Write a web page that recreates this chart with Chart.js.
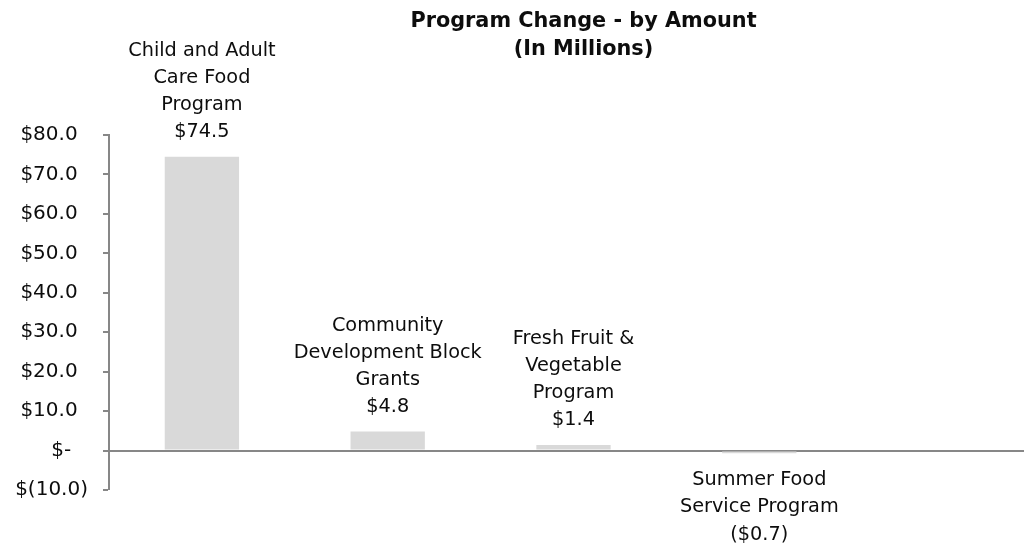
<!DOCTYPE html>
<html>
<head>
<meta charset="utf-8">
<script src="https://cdn.jsdelivr.net/npm/chart.js@4"></script>
<style>
  html, body { margin: 0; padding: 0; background: #fff; overflow: hidden; }
  #wrap { position: relative; width: 1038px; height: 549px; }
</style>
</head>
<body>
<div id="wrap"><canvas id="c"></canvas></div>
<script>
const categories = [
  ["Child and Adult", "Care Food", "Program"],
  ["Community", "Development Block", "Grants"],
  ["Fresh Fruit &", "Vegetable", "Program"],
  ["Summer Food", "Service Program"],
  [""]
];
const values = [74.5, 4.8, 1.4, -0.7, null];
const valueLabels = ["$74.5", "$4.8", "$1.4", "($0.7)", ""];
const tickValues = [-10, 0, 10, 20, 30, 40, 50, 60, 70, 80];
const tickLabels = ["$(10.0)", "$-", "$10.0", "$20.0", "$30.0", "$40.0", "$50.0", "$60.0", "$70.0", "$80.0"];
const titleLines = ["Program Change - by Amount", "(In Millions)"];

const FONT = "'DejaVu Sans', sans-serif";
const TEXT = '#0d0d0d';
const AXIS = '#878787';

const labelPlugin = {
  id: 'barLabels',
  afterDatasetsDraw(chart) {
    const ctx = chart.ctx;
    const meta = chart.getDatasetMeta(0);
    ctx.save();
    ctx.fillStyle = TEXT;
    ctx.font = "19.3px " + FONT;
    ctx.textAlign = 'center';
    ctx.textBaseline = 'middle';
    const lh = 27;
    meta.data.forEach((el, i) => {
      const v = values[i];
      if (v === null || v === undefined) return;
      const lines = categories[i].concat([valueLabels[i]]);
      if (v >= 0) {
        let y = el.y - 25;
        for (let k = lines.length - 1; k >= 0; k--) {
          ctx.fillText(lines[k], el.x, y);
          y -= lh;
        }
      } else {
        let y = el.y + 26.5;
        for (let k = 0; k < lines.length; k++) {
          ctx.fillText(lines[k], el.x, y);
          y += lh + 0.5;
        }
      }
    });
    // title
    const ca = chart.chartArea;
    ctx.font = "bold 20.8px " + FONT;
    const cx = (ca.left + ca.right) / 2 + 10;
    ctx.fillText(titleLines[0], cx, 22);
    ctx.fillText(titleLines[1], cx, 50);
    ctx.restore();
  }
};

new Chart(document.getElementById('c'), {
  type: 'bar',
  data: {
    labels: categories,
    datasets: [{
      data: values,
      backgroundColor: '#D9D9D9',
      borderWidth: 0,
      barPercentage: 0.4,
      categoryPercentage: 1.0
    }]
  },
  options: {
    responsive: true,
    maintainAspectRatio: false,
    devicePixelRatio: 1,
    animation: false,
    layout: { padding: { top: 135, bottom: 59, left: 0, right: 0 } },
    plugins: {
      legend: { display: false },
      title: { display: false },
      tooltip: { enabled: false }
    },
    scales: {
      x: { display: false },
      y: {
        min: -10,
        max: 80,
        afterBuildTicks(scale) {
          scale.ticks = tickValues.map(v => ({ value: v }));
        },
        afterFit(scale) { scale.width = 109; },
        border: { display: true, color: AXIS, width: 2 },
        grid: {
          drawOnChartArea: true,
          color: c => (c.tick && c.tick.value === 0) ? AXIS : 'rgba(0,0,0,0)',
          lineWidth: c => (c.tick && c.tick.value === 0) ? 2 : 0,
          tickColor: AXIS,
          tickWidth: 2,
          tickLength: 6
        },
        ticks: {
          color: TEXT,
          font: { family: FONT, size: 20 },
          padding: 15,
          callback: (value) => {
            const idx = tickValues.indexOf(value);
            const s = idx >= 0 ? tickLabels[idx] : '';
            if (s === '$-') return s + '  \u2009';
            if (s.indexOf('(') >= 0) return s;
            return s + ' \u2009';
          }
        }
      }
    }
  },
  plugins: [labelPlugin]
});
</script>
</body>
</html>
